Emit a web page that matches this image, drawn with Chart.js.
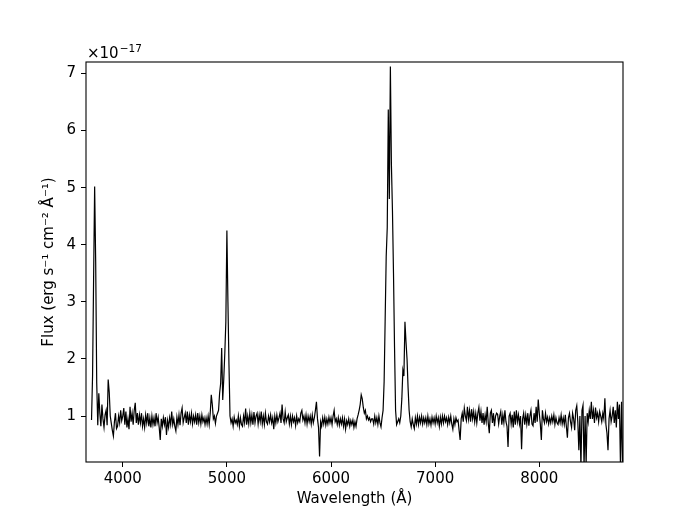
<!DOCTYPE html>
<html>
<head>
<meta charset="utf-8">
<title>Spectrum</title>
<script src="https://cdn.jsdelivr.net/npm/chart.js@4.4.1/dist/chart.umd.min.js"></script>
<style>
  html, body { margin: 0; padding: 0; background: #fff; }
  #wrap { width: 692px; height: 519px; }
</style>
</head>
<body>
<div id="wrap"><canvas id="spec" width="692" height="519"></canvas></div>
<script>
/* ── Data (flux in units of 1e-17 erg s^-1 cm^-2 Å^-1) ───────── */
const wavelength = [
  3700,3710,3720,3730,3740,3750,3760,3770,3780,3790,
  3800,3810,3820,3830,3840,3850,3860,3870,3880,3890,
  3900,3910,3920,3930,3940,3950,3960,3970,3980,3990,
  4000,4010,4020,4030,4040,4050,4060,4070,4080,4090,
  4100,4110,4120,4130,4140,4150,4160,4170,4180,4190,
  4200,4210,4220,4230,4240,4250,4260,4270,4280,4290,
  4300,4310,4320,4330,4340,4350,4360,4370,4380,4390,
  4400,4410,4420,4430,4440,4450,4460,4470,4480,4490,
  4500,4510,4520,4530,4540,4550,4560,4570,4580,4590,
  4600,4610,4620,4630,4640,4650,4660,4670,4680,4690,
  4700,4710,4720,4730,4740,4750,4760,4770,4780,4790,
  4800,4810,4820,4830,4840,4850,4860,4870,4880,4890,
  4900,4910,4920,4930,4940,4950,4960,4970,4980,4990,
  5000,5010,5020,5030,5040,5050,5060,5070,5080,5090,
  5100,5110,5120,5130,5140,5150,5160,5170,5180,5190,
  5200,5210,5220,5230,5240,5250,5260,5270,5280,5290,
  5300,5310,5320,5330,5340,5350,5360,5370,5380,5390,
  5400,5410,5420,5430,5440,5450,5460,5470,5480,5490,
  5500,5510,5520,5530,5540,5550,5560,5570,5580,5590,
  5600,5610,5620,5630,5640,5650,5660,5670,5680,5690,
  5700,5710,5720,5730,5740,5750,5760,5770,5780,5790,
  5800,5810,5820,5830,5840,5850,5860,5870,5880,5890,
  5900,5910,5920,5930,5940,5950,5960,5970,5980,5990,
  6000,6010,6020,6030,6040,6050,6060,6070,6080,6090,
  6100,6110,6120,6130,6140,6150,6160,6170,6180,6190,
  6200,6210,6220,6230,6240,6250,6260,6270,6280,6290,
  6300,6310,6320,6330,6340,6350,6360,6370,6380,6390,
  6400,6410,6420,6430,6440,6450,6460,6470,6480,6490,
  6500,6510,6520,6530,6540,6550,6560,6570,6580,6590,
  6600,6610,6620,6630,6640,6650,6660,6670,6680,6690,
  6700,6710,6720,6730,6740,6750,6760,6770,6780,6790,
  6800,6810,6820,6830,6840,6850,6860,6870,6880,6890,
  6900,6910,6920,6930,6940,6950,6960,6970,6980,6990,
  7000,7010,7020,7030,7040,7050,7060,7070,7080,7090,
  7100,7110,7120,7130,7140,7150,7160,7170,7180,7190,
  7200,7210,7220,7230,7240,7250,7260,7270,7280,7290,
  7300,7310,7320,7330,7340,7350,7360,7370,7380,7390,
  7400,7410,7420,7430,7440,7450,7460,7470,7480,7490,
  7500,7510,7520,7530,7540,7550,7560,7570,7580,7590,
  7600,7610,7620,7630,7640,7650,7660,7670,7680,7690,
  7700,7710,7720,7730,7740,7750,7760,7770,7780,7790,
  7800,7810,7820,7830,7840,7850,7860,7870,7880,7890,
  7900,7910,7920,7930,7940,7950,7960,7970,7980,7990,
  8000,8010,8020,8030,8040,8050,8060,8070,8080,8090,
  8100,8110,8120,8130,8140,8150,8160,8170,8180,8190,
  8200,8210,8220,8230,8240,8250,8260,8270,8280,8290,
  8300,8310,8320,8330,8340,8350,8360,8370,8380,8390,
  8400,8410,8420,8430,8440,8450,8460,8470,8480,8490,
  8500,8510,8520,8530,8540,8550,8560,8570,8580,8590,
  8600,8610,8620,8630,8640,8650,8660,8670,8680,8690,
  8700,8710,8720,8730,8740,8750,8760,8770,8780,8790,
  8800
];

const flux = [
  0.93,1.70,3.40,5.02,3.70,1.58,0.84,1.40,1.05,0.82,   // 3700 [OII]
  1.20,0.95,0.80,1.02,1.10,0.84,1.64,1.42,1.00,0.87,   // 3800
  0.75,0.65,0.90,1.05,0.78,0.82,1.00,0.88,1.10,0.92,   // 3900
  1.00,1.14,0.85,1.08,0.80,0.95,0.77,1.16,0.90,1.05,   // 4000
  0.85,1.10,1.23,0.88,1.05,0.85,1.02,0.88,1.05,0.82,   // 4100
  0.95,0.80,1.02,0.88,1.05,0.82,0.97,0.80,1.00,0.85,   // 4200
  0.97,0.82,1.05,0.88,0.98,0.80,0.58,0.95,0.82,0.97,   // 4300
  0.85,0.98,0.67,0.92,0.80,0.97,0.85,1.08,0.85,0.95,   // 4400
  0.82,0.74,0.98,0.85,1.02,0.84,1.05,1.14,0.88,0.97,   // 4500
  1.05,0.88,1.08,0.85,1.02,0.90,1.05,0.86,1.00,0.90,   // 4600
  1.02,0.85,1.05,0.88,1.00,0.86,1.02,0.90,0.97,0.85,   // 4700
  0.97,0.86,1.00,0.85,1.05,1.37,1.20,0.95,1.00,0.87,   // 4800 Hb
  1.00,1.05,1.10,1.40,1.57,2.19,1.28,1.65,2.10,2.65,   // 4900 [OIII]
  4.25,3.00,1.90,1.00,0.88,0.95,0.82,0.98,0.88,0.93,   // 5000
  0.85,1.00,0.82,0.97,0.85,0.82,1.00,0.88,1.13,0.85,   // 5100
  1.00,0.86,1.05,0.88,1.02,0.85,1.07,0.88,1.00,1.05,   // 5200
  0.86,1.02,0.90,1.08,0.86,1.00,0.85,1.05,0.90,0.86,   // 5300
  1.00,0.90,1.02,0.88,0.97,0.77,1.00,0.88,1.02,0.90,   // 5400
  0.97,1.05,0.88,1.20,0.95,0.88,1.07,0.90,0.97,1.02,   // 5500
  0.86,1.00,0.85,1.00,0.90,0.97,0.83,1.00,0.88,0.95,   // 5600
  0.90,1.05,1.10,0.93,1.00,0.88,1.02,0.86,1.00,0.90,   // 5700
  1.00,0.86,1.02,0.88,0.97,1.10,1.25,0.95,0.80,0.29,   // 5800 NaD
  0.90,0.82,0.97,0.86,0.98,0.84,0.95,0.86,0.98,0.88,   // 5900
  0.97,0.85,1.00,1.10,0.90,0.95,0.85,0.97,0.84,0.95,   // 6000
  0.86,0.97,0.82,0.95,0.77,0.92,0.85,0.95,0.82,0.92,   // 6100
  0.85,0.93,0.80,0.90,0.82,0.95,1.02,1.10,1.20,1.37,   // 6200 [OI]
  1.30,1.15,1.05,1.10,0.95,1.00,0.93,0.97,0.90,0.95,   // 6300
  0.95,0.86,1.00,0.88,0.97,0.85,1.00,0.88,0.81,0.97,   // 6400
  1.10,1.60,2.70,3.80,4.30,6.37,4.80,7.12,5.40,4.60,   // 6500 Ha + [NII]
  3.50,2.20,1.10,0.85,0.90,0.95,0.88,1.00,1.30,1.80,   // 6600
  1.70,2.65,2.30,2.00,1.50,1.10,0.90,0.81,0.95,0.85,   // 6700 [SII]
  0.78,0.97,0.86,1.00,0.85,0.98,0.88,1.00,0.86,0.97,   // 6800
  0.88,0.97,0.85,1.00,0.86,0.95,0.84,0.98,0.88,0.97,   // 6900
  0.86,1.00,0.88,0.97,0.82,0.98,0.86,1.00,0.88,1.00,   // 7000
  0.90,0.97,0.85,0.98,0.88,1.00,0.86,0.77,0.95,0.85,   // 7100
  0.97,0.90,0.93,0.75,0.58,0.95,1.05,0.90,1.14,1.00,   // 7200
  0.92,1.16,0.95,1.10,0.90,1.12,0.95,1.08,0.90,1.05,   // 7300
  0.88,1.05,1.15,0.92,1.08,0.88,1.05,0.85,1.02,0.90,   // 7400
  1.16,0.88,0.70,1.05,1.10,0.88,1.05,0.82,1.00,1.05,   // 7500
  1.03,0.86,1.00,1.08,0.85,1.02,0.88,1.10,0.90,0.82,   // 7600
  0.46,1.00,1.05,0.86,1.02,0.80,1.08,0.85,1.10,0.90,   // 7700
  1.02,0.86,1.00,0.42,0.95,1.05,0.85,1.02,0.86,1.05,   // 7800
  0.83,1.00,1.10,0.86,0.83,1.05,0.88,1.16,0.90,1.29,   // 7900
  1.05,0.86,0.58,1.10,0.95,0.88,1.05,0.90,0.98,0.86,   // 8000
  0.97,0.88,1.00,0.90,1.02,0.85,0.97,0.88,0.85,0.97,   // 8100
  0.88,1.02,0.86,0.97,0.85,1.02,0.82,0.62,0.97,1.05,   // 8200
  0.90,0.80,1.05,0.95,0.75,1.10,1.18,0.90,0.40,1.00,   // 8300
  0.10,1.10,1.19,0.10,1.00,0.15,1.05,0.90,1.10,0.95,   // 8400
  1.25,0.95,1.10,0.88,1.15,0.97,1.05,0.90,1.08,1.00,   // 8500
  0.90,1.05,0.95,1.31,0.85,0.70,0.40,0.95,1.10,0.90,   // 8600
  1.00,1.16,0.88,1.10,0.80,1.25,0.95,1.20,0.10,1.25,   // 8700
  0.20                                                 // 8800
];

const xTicks = [4000, 5000, 6000, 7000, 8000];
const yTicks = [1, 2, 3, 4, 5, 6, 7];

const FONT = 'DejaVu Sans';

/* ── Plugins: axes frame + offset label ───────────────────── */
const frame = {
  id: 'frame',
  afterDraw(chart) {
    const { ctx, chartArea: a } = chart;
    ctx.save();
    ctx.strokeStyle = '#000';
    ctx.lineWidth = 1.1;
    ctx.strokeRect(a.left, a.top, a.right - a.left, a.bottom - a.top);
    ctx.restore();
  }
};

const offsetLabel = {
  id: 'offsetLabel',
  afterDraw(chart) {
    const { ctx, chartArea: a } = chart;
    ctx.save();
    ctx.fillStyle = '#000';
    ctx.textBaseline = 'alphabetic';
    ctx.textAlign = 'left';
    ctx.font = `15px "${FONT}"`;
    const base = a.top - 4;
    ctx.fillText('×10', a.left + 1, base);
    const w = ctx.measureText('×10').width;
    ctx.font = `10.5px "${FONT}"`;
    ctx.fillText('−17', a.left + 1 + w + 1, base - 6);
    ctx.restore();
  }
};

new Chart(document.getElementById('spec'), {
  type: 'line',
  data: {
    datasets: [{
      data: wavelength.map((w, i) => ({ x: w, y: flux[i] })),
      borderColor: '#000',
      borderWidth: 1.2,
      pointRadius: 0,
      tension: 0,
      fill: false
    }]
  },
  options: {
    responsive: false,
    animation: false,
    parsing: false,
    layout: { padding: { left: 40, top: 62, right: 69, bottom: 0 } },
    plugins: { legend: { display: false }, tooltip: { enabled: false } },
    scales: {
      x: {
        type: 'linear', min: 3647, max: 8804,
        afterBuildTicks: s => { s.ticks = xTicks.map(v => ({ value: v })); },
        afterFit: s => { s.height = 57; },
        grid: { drawOnChartArea: false, drawTicks: true, tickLength: 5, color: '#000', lineWidth: 1 },
        border: { display: false },
        ticks: { color: '#000', font: { family: FONT, size: 15 }, padding: 3, maxRotation: 0, callback: v => String(v) },
        title: { display: true, text: 'Wavelength (Å)', color: '#000', font: { family: FONT, size: 15 }, padding: { top: 0, bottom: 11 } }
      },
      y: {
        type: 'linear', min: 0.195, max: 7.2,
        afterBuildTicks: s => { s.ticks = yTicks.map(v => ({ value: v })); },
        afterFit: s => { s.width = 46; },
        grid: { drawOnChartArea: false, drawTicks: true, tickLength: 5, color: '#000', lineWidth: 1 },
        border: { display: false },
        ticks: { color: '#000', font: { family: FONT, size: 15 }, padding: 5, callback: v => String(v) },
        title: { display: true, text: 'Flux (erg s⁻¹ cm⁻² Å⁻¹)', color: '#000', font: { family: FONT, size: 15 }, padding: { top: 0, bottom: 0 } }
      }
    }
  },
  plugins: [frame, offsetLabel]
});
</script>
</body>
</html>
